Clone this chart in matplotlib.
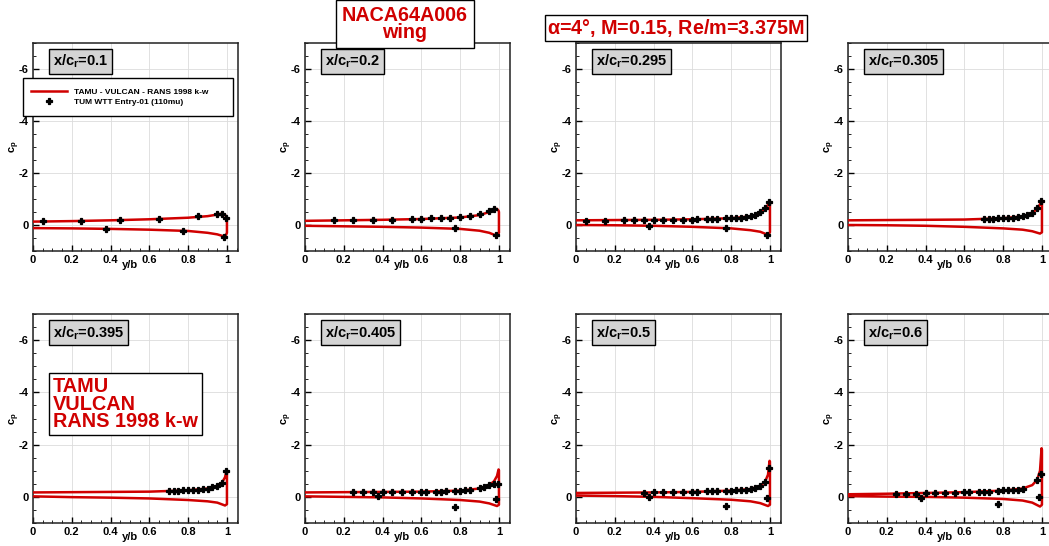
import matplotlib
matplotlib.use("Agg")
import matplotlib.pyplot as plt
from matplotlib.ticker import MultipleLocator
from matplotlib.patches import Rectangle

plt.rcParams['font.family'] = ['Liberation Sans', 'DejaVu Sans']
plt.rcParams['font.weight'] = 'bold'
plt.rcParams['mathtext.fontset'] = 'custom'
plt.rcParams['mathtext.rm'] = 'Liberation Sans:bold'
plt.rcParams['mathtext.bf'] = 'Liberation Sans:bold'
plt.rcParams['mathtext.it'] = 'Liberation Sans:bold'

RED = '#d00000'

# ---------------- data ----------------
stations = ['0.1', '0.2', '0.295', '0.305', '0.395', '0.405', '0.5', '0.6']

# CFD curves: upper surface (root -> tip), tip edge, lower surface (tip -> root)
y_upper = [0.0, 0.2, 0.4, 0.6, 0.8, 0.9, 0.95, 0.975, 0.99, 0.998]
y_lower = [0.99, 0.95, 0.9, 0.8, 0.6, 0.4, 0.2, 0.0]

cp_upper = [
    [-0.13, -0.15, -0.18, -0.22, -0.28, -0.34, -0.40, -0.44, -0.40, -0.28],
    [-0.16, -0.18, -0.20, -0.23, -0.29, -0.38, -0.50, -0.60, -0.62, -0.55],
    [-0.18, -0.19, -0.20, -0.22, -0.26, -0.33, -0.45, -0.60, -0.78, -0.90],
    [-0.18, -0.19, -0.20, -0.21, -0.26, -0.33, -0.47, -0.62, -0.80, -0.92],
    [-0.17, -0.18, -0.19, -0.20, -0.25, -0.32, -0.42, -0.55, -0.75, -1.00],
    [-0.17, -0.18, -0.19, -0.20, -0.24, -0.32, -0.45, -0.60, -0.80, -1.05],
    [-0.15, -0.16, -0.17, -0.19, -0.24, -0.30, -0.42, -0.58, -0.85, -1.38],
    [-0.10, -0.12, -0.15, -0.18, -0.24, -0.32, -0.45, -0.65, -1.00, -1.86],
]
cp_tip_top = [-0.20, -0.50, -0.88, -0.90, -0.98, -1.02, -1.35, -1.80]
cp_tip_bot = [0.30, 0.30, 0.28, 0.28, 0.28, 0.30, 0.30, 0.30]
cp_lower = [
    [0.45, 0.36, 0.30, 0.23, 0.18, 0.15, 0.13, 0.12],
    [0.42, 0.30, 0.22, 0.15, 0.10, 0.07, 0.05, 0.03],
    [0.38, 0.26, 0.20, 0.13, 0.07, 0.03, 0.01, 0.00],
    [0.33, 0.24, 0.18, 0.13, 0.07, 0.03, 0.01, 0.00],
    [0.33, 0.22, 0.17, 0.12, 0.06, 0.03, 0.01, -0.02],
    [0.35, 0.25, 0.18, 0.12, 0.06, 0.02, 0.00, -0.02],
    [0.35, 0.24, 0.17, 0.11, 0.05, 0.00, -0.03, -0.05],
    [0.37, 0.22, 0.14, 0.08, 0.03, 0.00, -0.01, -0.03],
]

# experiment (TUM WTT)
exp_y = [
    [0.05, 0.25, 0.45, 0.65, 0.85, 0.95, 0.975, 0.995, 0.375, 0.775, 0.985],
    [0.15, 0.25, 0.35, 0.45, 0.55, 0.6, 0.65, 0.7, 0.75, 0.8, 0.85, 0.9, 0.95, 0.975,
     0.775, 0.985],
    [0.05, 0.15, 0.25, 0.3, 0.35, 0.4, 0.45, 0.5, 0.55, 0.6, 0.625, 0.675, 0.7, 0.725,
     0.775, 0.8, 0.825, 0.85, 0.875, 0.9, 0.925, 0.95, 0.975, 0.995, 0.375, 0.775, 0.985],
    [0.7, 0.725, 0.75, 0.775, 0.8, 0.825, 0.85, 0.875, 0.9, 0.925, 0.95, 0.975, 0.995],
    [0.7, 0.725, 0.75, 0.775, 0.8, 0.825, 0.85, 0.875, 0.9, 0.925, 0.95, 0.975, 0.995],
    [0.25, 0.3, 0.35, 0.4, 0.45, 0.5, 0.55, 0.6, 0.625, 0.675, 0.7, 0.725, 0.775, 0.8,
     0.825, 0.85, 0.9, 0.925, 0.95, 0.975, 0.995, 0.375, 0.775, 0.985],
    [0.35, 0.4, 0.45, 0.5, 0.55, 0.6, 0.625, 0.675, 0.7, 0.725, 0.775, 0.8, 0.825, 0.85,
     0.875, 0.9, 0.925, 0.95, 0.975, 0.995, 0.375, 0.775, 0.985],
    [0.25, 0.3, 0.35, 0.4, 0.45, 0.5, 0.55, 0.6, 0.625, 0.675, 0.7, 0.725, 0.775, 0.8,
     0.825, 0.85, 0.875, 0.9, 0.975, 0.995, 0.375, 0.775, 0.985],
]
exp_cp = [
    [-0.16, -0.14, -0.19, -0.24, -0.33, -0.42, -0.42, -0.26, 0.14, 0.22, 0.45],
    [-0.20, -0.20, -0.20, -0.21, -0.23, -0.24, -0.25, -0.26, -0.27, -0.30, -0.33, -0.42,
     -0.53, -0.61, 0.12, 0.38],
    [-0.17, -0.17, -0.18, -0.18, -0.18, -0.20, -0.20, -0.20, -0.20, -0.21, -0.22, -0.23,
     -0.23, -0.24, -0.26, -0.26, -0.27, -0.28, -0.30, -0.33, -0.40, -0.50, -0.65, -0.89,
     0.03, 0.10, 0.38],
    [-0.23, -0.23, -0.24, -0.25, -0.26, -0.27, -0.28, -0.30, -0.34, -0.38, -0.47, -0.65,
     -0.92],
    [-0.22, -0.23, -0.24, -0.25, -0.26, -0.27, -0.28, -0.29, -0.32, -0.36, -0.42, -0.54,
     -0.98],
    [-0.17, -0.17, -0.17, -0.18, -0.18, -0.18, -0.19, -0.19, -0.19, -0.20, -0.20, -0.21,
     -0.23, -0.24, -0.25, -0.26, -0.35, -0.36, -0.47, -0.50, -0.50, -0.02, 0.38, 0.07],
    [-0.15, -0.17, -0.17, -0.17, -0.17, -0.19, -0.19, -0.21, -0.21, -0.21, -0.23, -0.24,
     -0.25, -0.26, -0.28, -0.30, -0.35, -0.42, -0.58, -1.09, 0.02, 0.35, 0.04],
    [-0.11, -0.11, -0.12, -0.16, -0.16, -0.16, -0.16, -0.17, -0.17, -0.20, -0.20, -0.20,
     -0.24, -0.25, -0.26, -0.27, -0.28, -0.32, -0.65, -0.88, 0.03, 0.28, 0.00],
]

x_ticks = [0, 0.2, 0.4, 0.6, 0.8, 1]
x_ticklabels = ['0', '0.2', '0.4', '0.6', '0.8', '1']
y_ticks = [0, -2, -4, -6]
y_ticklabels = ['0', '-2', '-4', '-6']

# ---------------- figure ----------------
W, H = 1049, 546
fig = plt.figure(figsize=(W / 100, H / 100), dpi=100)

lefts_px = [33, 305, 576, 848]
rows_px = [(43, 251), (314, 523)]
ax_w_px = 205
XMAX = 1.057

axes = []
for i in range(8):
    r, c = divmod(i, 4)
    top, bot = rows_px[r]
    ax = fig.add_axes([lefts_px[c] / W, 1 - bot / H, ax_w_px / W, (bot - top) / H])
    axes.append(ax)

for i, ax in enumerate(axes):
    xs = list(y_upper) + [1.0, 1.0] + list(y_lower)
    cs = list(cp_upper[i]) + [cp_tip_top[i], cp_tip_bot[i]] + list(cp_lower[i])
    line, = ax.plot(xs, cs, color=RED, lw=1.8, solid_joinstyle='round', zorder=3,
                    label='TAMU - VULCAN - RANS 1998 k-w')
    pts, = ax.plot(exp_y[i], exp_cp[i], linestyle='none', marker='P', ms=4.6,
                   mfc='black', mec='black', mew=0.9, zorder=4,
                   label='TUM WTT Entry-01 (110mu)')

    ax.set_xlim(0, XMAX)
    ax.set_ylim(1, -7)
    ax.set_xticks(x_ticks)
    ax.set_xticklabels(x_ticklabels)
    ax.set_yticks(y_ticks)
    ax.set_yticklabels(y_ticklabels)
    ax.xaxis.set_minor_locator(MultipleLocator(0.05))
    ax.yaxis.set_minor_locator(MultipleLocator(0.5))
    ax.tick_params(which='major', direction='in', length=4, width=1.0,
                   labelsize=8, pad=3, top=False, right=False)
    ax.tick_params(which='minor', direction='in', length=2, width=0.6,
                   top=False, right=False)
    for lab in ax.get_xticklabels() + ax.get_yticklabels():
        lab.set_fontweight('bold')
    ax.grid(True, which='major', color='#dcdcdc', lw=0.6, zorder=0)
    ax.set_axisbelow(True)
    for sp in ax.spines.values():
        sp.set_linewidth(1.1)
        sp.set_color('#222222')
    ax.set_xlabel('y/b', fontsize=8, fontweight='bold')
    ax.xaxis.set_label_coords(0.5 / XMAX, -0.045)
    ax.set_ylabel(r'c$_\mathregular{p}$', fontsize=8, fontweight='bold')
    ax.yaxis.set_label_coords(-0.052, 0.5)

    ax.text(0.098, 0.91, r'x/c$_\mathregular{r}$=' + stations[i], transform=ax.transAxes,
            ha='left', va='center', fontsize=10.5, fontweight='bold', color='black',
            bbox=dict(boxstyle='square,pad=0.25', fc='#d4d4d4', ec='black', lw=1.0),
            zorder=6)

    if i == 0:
        leg = ax.legend(handles=[line, pts], loc='upper left',
                        bbox_to_anchor=(31 / W, 1 - 88 / H),
                        bbox_transform=fig.transFigure,
                        prop={'size': 6, 'weight': 'bold'},
                        frameon=False,
                        handlelength=4.3, handletextpad=0.85, borderpad=0,
                        labelspacing=0.3, borderaxespad=0)
        leg.set_zorder(8)
        frame = Rectangle((23 / W, 1 - 116 / H), 210 / W, 38 / H,
                          transform=fig.transFigure, fc='white', ec='black',
                          lw=1.0, zorder=7)
        fig.add_artist(frame)
        fig.add_artist(leg)

    if i == 4:
        ax.text(0.098, 0.568, 'TAMU\nVULCAN\nRANS 1998 k-w', transform=ax.transAxes,
                ha='left', va='center', fontsize=14.3, fontweight='bold', color=RED,
                linespacing=0.9,
                bbox=dict(boxstyle='square,pad=0.2', fc='white', ec='black', lw=1.0),
                zorder=6)

fig.text(405 / W, 1 - 24 / H, 'NACA64A006\nwing', ha='center', va='center',
         fontsize=14.2, fontweight='bold', color=RED, linespacing=0.85,
         bbox=dict(boxstyle='square,pad=0.3', fc='white', ec='black', lw=1.0))
fig.text(676 / W, 1 - 28 / H, r'$\mathregular{\alpha}$=4°, M=0.15, Re/m=3.375M',
         ha='center', va='center', fontsize=14.2, fontweight='bold', color=RED,
         bbox=dict(boxstyle='square,pad=0.12', fc='white', ec='black', lw=1.0))

fig.savefig('out.png', dpi=100)
